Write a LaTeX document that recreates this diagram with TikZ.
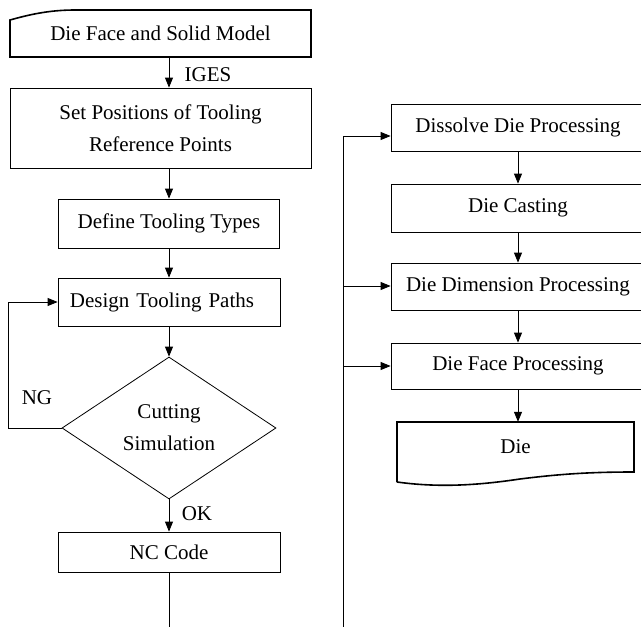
\documentclass[tikz,border=0pt]{standalone}
\usepackage{fontspec}
\setmainfont{Liberation Serif}
\usetikzlibrary{arrows.meta,shapes.geometric}
\begin{document}
\begin{tikzpicture}[x=1pt,y=-1pt,
  font=\fontsize{21}{32}\selectfont,
  box/.style={draw=black,line width=0.8pt,rectangle,inner sep=0pt,align=center},
  ghost/.style={rectangle,inner sep=0pt,align=center},
  arr/.style={line width=0.8pt,-{Triangle[length=10pt,width=8pt]}},
  ln/.style={line width=0.8pt},
  lbl/.style={inner sep=0pt}]
\useasboundingbox (0,0) rectangle (641,627);
\clip (0,0) rectangle (641,627);
\fill[white] (0,0) rectangle (641,627);

% left column
\node[ghost,minimum width=301pt,minimum height=47pt] (start) at (160.5,33.5) {Die Face and Solid Model};
\draw[line width=1.6pt] (10,57) -- (10,20) .. controls (28,15) and (48,10) .. (75,10) -- (311,10) -- (311,57) -- cycle;
\node[box,minimum width=301pt,minimum height=80pt] (setpos) at (160.5,128) {Set Positions of Tooling\\Reference Points};
\node[box,minimum width=221pt,minimum height=49pt] (deftype) at (169,223.5) {Define Tooling Types};
\node[box,minimum width=222pt,minimum height=48pt,inner xsep=12pt,text width=198pt,align=left] (design) at (169,302) {Design Tooling Paths};
\node[draw=black,line width=0.8pt,diamond,aspect=1.507,minimum width=214pt,minimum height=142pt,inner sep=0pt,align=center] (sim) at (169,428) {Cutting\\Simulation};
\node[box,minimum width=222pt,minimum height=40pt] (nc) at (169,552) {NC Code};
\coordinate (ncend) at (169,627);
\coordinate (loopb) at (8,428);
\coordinate (loopt) at (8,302);

\draw[arr] (start.south -| 169,0) -- (setpos.north -| 169,0);
\draw[arr] (setpos.south -| 169,0) -- (deftype.north);
\draw[arr] (deftype.south) -- (design.north);
\draw[arr] (design.south) -- (sim.north);
\draw[arr] (sim.south) -- (nc.north);
\draw[ln] (nc.south) -- (ncend);
\draw[arr] (sim.west) -- (loopb) -- (loopt) -- (design.west);

\node[lbl] (iges) at (208,75) {IGES};
\node[lbl] (ng) at (37,398) {NG};
\node[lbl] (ok) at (197,514) {OK};

% right column
\node[box,minimum width=254pt,minimum height=47pt] (dissolve) at (518,127.5) {Dissolve Die Processing};
\node[box,minimum width=254pt,minimum height=48pt] (casting) at (518,208) {Die Casting};
\node[box,minimum width=254pt,minimum height=47pt] (dimen) at (518,286.5) {Die Dimension Processing};
\node[box,minimum width=254pt,minimum height=46pt] (face) at (518,366) {Die Face Processing};
\node[ghost,minimum width=237pt,minimum height=50pt] (die) at (515.5,447) {Die};
\draw[line width=1.6pt] (397,482) -- (397,422) -- (634,422) -- (634,472)
  .. controls (590,472) and (560,474) .. (520,479)
  .. controls (480,485) and (440,488) .. (397,482);

\coordinate (bus) at (343,627);
\coordinate (bustop) at (343,136);
\coordinate (busdim) at (343,286);
\coordinate (busface) at (343,366);
\draw[ln] (bus) -- (bustop);
\draw[arr] (bustop) -- (bustop -| dissolve.west);
\draw[arr] (busdim) -- (busdim -| dimen.west);
\draw[arr] (busface) -- (busface -| face.west);
\draw[arr] (dissolve.south) -- (casting.north);
\draw[arr] (casting.south) -- (dimen.north);
\draw[arr] (dimen.south) -- (face.north);
\draw[arr] (face.south) -- (face.south |- die.north);
\end{tikzpicture}
\end{document}
